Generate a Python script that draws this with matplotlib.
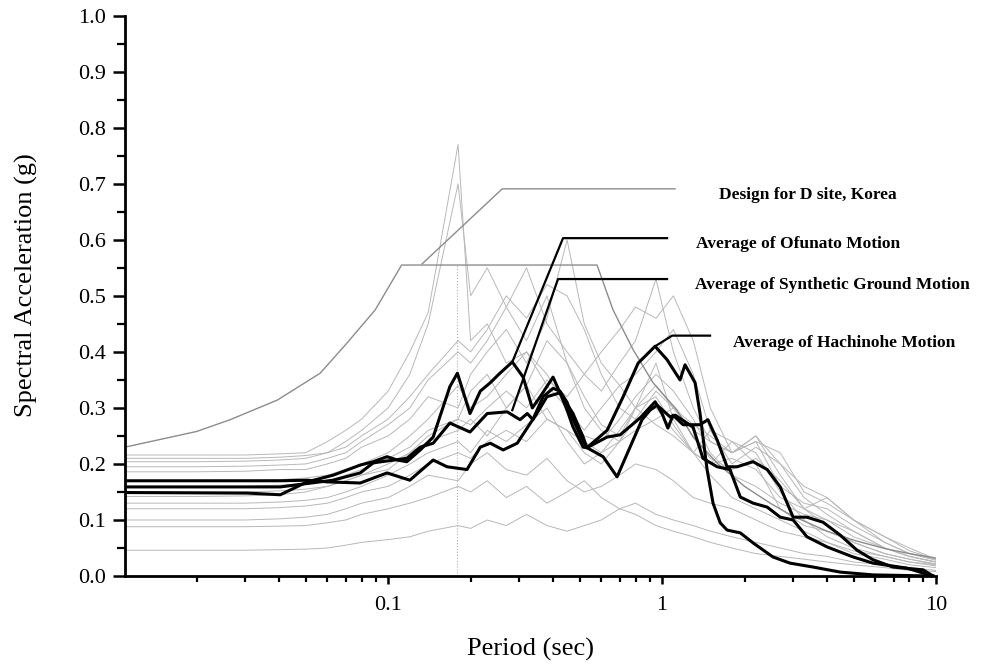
import matplotlib.pyplot as plt
from matplotlib.ticker import FixedLocator, FixedFormatter, MultipleLocator, FormatStrFormatter, LogLocator, NullFormatter

plt.rcParams['font.family'] = ['Liberation Serif', 'DejaVu Serif']

# period grid shared by the individual record spectra
periods = [0.01095, 0.02, 0.03, 0.04, 0.05, 0.06, 0.07, 0.08, 0.1, 0.12, 0.14, 0.18,
           0.2, 0.23, 0.27, 0.32, 0.38, 0.45, 0.52, 0.6, 0.7, 0.8, 0.95, 1.1, 1.3,
           1.5, 1.8, 2.2, 2.7, 3.3, 4.0, 5.0, 6.5, 8.0, 10.0]

rec01 = [0.216, 0.216, 0.216, 0.218, 0.220, 0.240, 0.260, 0.280, 0.330, 0.400, 0.470, 0.770,
         0.420, 0.450, 0.380, 0.400, 0.360, 0.300, 0.260, 0.300, 0.340, 0.300, 0.380, 0.280,
         0.220, 0.180, 0.140, 0.120, 0.100, 0.080, 0.060, 0.045, 0.035, 0.025, 0.018]
rec02 = [0.204, 0.204, 0.205, 0.207, 0.210, 0.220, 0.240, 0.260, 0.300, 0.360, 0.450, 0.700,
         0.500, 0.550, 0.480, 0.420, 0.500, 0.380, 0.300, 0.260, 0.240, 0.280, 0.300, 0.260,
         0.220, 0.200, 0.240, 0.220, 0.150, 0.100, 0.070, 0.050, 0.035, 0.025, 0.020]
rec03 = [0.195, 0.195, 0.196, 0.198, 0.200, 0.210, 0.220, 0.240, 0.270, 0.300, 0.350, 0.400,
         0.380, 0.420, 0.480, 0.550, 0.450, 0.400, 0.360, 0.330, 0.380, 0.420, 0.530, 0.400,
         0.300, 0.240, 0.220, 0.250, 0.180, 0.120, 0.090, 0.060, 0.040, 0.030, 0.022]
rec04 = [0.186, 0.186, 0.187, 0.190, 0.190, 0.200, 0.210, 0.230, 0.250, 0.280, 0.320, 0.300,
         0.360, 0.400, 0.440, 0.380, 0.460, 0.600, 0.450, 0.380, 0.340, 0.360, 0.400, 0.440,
         0.360, 0.260, 0.200, 0.230, 0.200, 0.140, 0.110, 0.080, 0.050, 0.035, 0.025]
rec05 = [0.170, 0.170, 0.170, 0.172, 0.175, 0.180, 0.190, 0.200, 0.220, 0.250, 0.280, 0.340,
         0.300, 0.320, 0.360, 0.400, 0.340, 0.300, 0.250, 0.240, 0.280, 0.320, 0.360, 0.330,
         0.280, 0.220, 0.180, 0.160, 0.130, 0.110, 0.100, 0.070, 0.050, 0.035, 0.025]
rec06 = [0.160, 0.160, 0.160, 0.162, 0.165, 0.170, 0.180, 0.190, 0.210, 0.230, 0.260, 0.280,
         0.330, 0.360, 0.300, 0.340, 0.420, 0.380, 0.320, 0.270, 0.250, 0.300, 0.340, 0.300,
         0.270, 0.250, 0.220, 0.240, 0.160, 0.130, 0.120, 0.090, 0.060, 0.040, 0.028]
rec07 = [0.142, 0.142, 0.143, 0.145, 0.150, 0.160, 0.170, 0.180, 0.190, 0.220, 0.240, 0.260,
         0.280, 0.250, 0.300, 0.340, 0.280, 0.260, 0.220, 0.200, 0.240, 0.300, 0.320, 0.270,
         0.220, 0.200, 0.210, 0.190, 0.140, 0.120, 0.140, 0.100, 0.060, 0.040, 0.030]
rec08 = [0.130, 0.130, 0.130, 0.132, 0.135, 0.140, 0.150, 0.160, 0.180, 0.200, 0.220, 0.240,
         0.220, 0.260, 0.240, 0.270, 0.300, 0.240, 0.200, 0.220, 0.260, 0.300, 0.270, 0.250,
         0.220, 0.260, 0.240, 0.200, 0.120, 0.090, 0.080, 0.060, 0.040, 0.030, 0.020]
rec09 = [0.100, 0.100, 0.100, 0.102, 0.105, 0.110, 0.120, 0.130, 0.140, 0.160, 0.180, 0.170,
         0.200, 0.220, 0.190, 0.180, 0.210, 0.170, 0.150, 0.160, 0.180, 0.200, 0.190, 0.170,
         0.140, 0.130, 0.120, 0.100, 0.080, 0.070, 0.060, 0.040, 0.030, 0.020, 0.015]
rec10 = [0.088, 0.088, 0.088, 0.089, 0.090, 0.095, 0.100, 0.110, 0.120, 0.130, 0.140, 0.160,
         0.150, 0.170, 0.140, 0.160, 0.130, 0.150, 0.170, 0.140, 0.120, 0.130, 0.110, 0.100,
         0.090, 0.080, 0.070, 0.060, 0.050, 0.040, 0.035, 0.025, 0.020, 0.015, 0.010]
rec11 = [0.046, 0.046, 0.046, 0.047, 0.048, 0.050, 0.055, 0.060, 0.065, 0.070, 0.080, 0.090,
         0.085, 0.100, 0.090, 0.110, 0.090, 0.080, 0.090, 0.100, 0.120, 0.110, 0.090, 0.080,
         0.070, 0.060, 0.050, 0.040, 0.035, 0.030, 0.025, 0.020, 0.015, 0.010, 0.008]
rec12 = [0.150, 0.150, 0.150, 0.152, 0.155, 0.160, 0.170, 0.180, 0.200, 0.220, 0.250, 0.280,
         0.270, 0.300, 0.330, 0.300, 0.350, 0.320, 0.360, 0.400, 0.440, 0.480, 0.460, 0.500,
         0.420, 0.300, 0.220, 0.240, 0.220, 0.150, 0.130, 0.100, 0.070, 0.050, 0.030]
rec13 = [0.210, 0.210, 0.210, 0.212, 0.215, 0.220, 0.230, 0.250, 0.280, 0.320, 0.360, 0.420,
         0.400, 0.440, 0.500, 0.460, 0.520, 0.500, 0.440, 0.360, 0.300, 0.280, 0.330, 0.300,
         0.250, 0.210, 0.190, 0.210, 0.170, 0.120, 0.100, 0.080, 0.050, 0.035, 0.025]
rec14 = [0.120, 0.120, 0.120, 0.122, 0.125, 0.130, 0.140, 0.150, 0.160, 0.180, 0.200, 0.220,
         0.210, 0.240, 0.260, 0.240, 0.280, 0.260, 0.240, 0.220, 0.240, 0.260, 0.280, 0.300,
         0.260, 0.240, 0.220, 0.250, 0.200, 0.160, 0.140, 0.100, 0.070, 0.045, 0.030]

# design spectrum, site class D
design_T = [0.01095, 0.02, 0.0265, 0.0394, 0.0565, 0.0708, 0.0897, 0.112, 0.579, 0.662,
            0.784, 0.927, 1.135, 1.297, 1.6, 2.0, 2.5, 3.0, 4.0, 5.0, 6.5, 8.0, 10.0]
design_Sa = [0.230, 0.258, 0.279, 0.314, 0.362, 0.416, 0.475, 0.555, 0.555, 0.475,
             0.404, 0.345, 0.296, 0.248, 0.200, 0.160, 0.129, 0.107, 0.080, 0.064, 0.049, 0.040, 0.032]
design_T0 = 0.178

# averaged spectra
ofunato_T = [0.01095, 0.0306, 0.0404, 0.0506, 0.0630, 0.0791, 0.0882, 0.0991, 0.108, 0.117,
             0.131, 0.146, 0.168, 0.179, 0.199, 0.217, 0.236, 0.256, 0.284, 0.311,
             0.336, 0.359, 0.400, 0.424, 0.450, 0.473, 0.515, 0.532,
             0.630, 0.703, 0.831, 0.943, 1.0, 1.05, 1.097, 1.193, 1.376, 1.47,
             1.588, 1.727, 1.88, 2.15, 2.42, 2.70, 3.01, 3.38, 3.87, 4.47,
             5.15, 5.89, 6.97, 8.97, 9.75]
ofunato_Sa = [0.149, 0.148, 0.145, 0.168, 0.180, 0.198, 0.204, 0.213, 0.207, 0.204,
              0.225, 0.248, 0.338, 0.362, 0.290, 0.330, 0.345, 0.362, 0.382, 0.355,
              0.300, 0.320, 0.355, 0.327, 0.296, 0.266, 0.230, 0.229,
              0.248, 0.252, 0.282, 0.311, 0.290, 0.264, 0.287, 0.270, 0.270, 0.279,
              0.243, 0.195, 0.195, 0.204, 0.190, 0.159, 0.105, 0.105, 0.096, 0.073,
              0.046, 0.029, 0.016, 0.011, 0.000]

synthetic_T = [0.01095, 0.0404, 0.0630, 0.0791, 0.0882, 0.117, 0.131, 0.146, 0.168, 0.199,
               0.230, 0.272, 0.303, 0.322, 0.338, 0.359, 0.380, 0.424, 0.473, 0.515, 0.532,
               0.609, 0.685, 0.764, 0.845, 0.904, 0.959, 1.07, 1.116, 1.297, 1.41,
               1.588, 1.77, 1.93, 2.15, 2.42, 2.70, 3.01, 3.38, 4.00, 4.98, 5.89, 7.84, 9.75]
synthetic_Sa = [0.159, 0.159, 0.171, 0.184, 0.202, 0.210, 0.230, 0.237, 0.273, 0.257,
                0.290, 0.293, 0.279, 0.290, 0.279, 0.300, 0.320, 0.327, 0.290, 0.248, 0.229,
                0.213, 0.177, 0.230, 0.279, 0.296, 0.305, 0.284, 0.287, 0.266, 0.210,
                0.195, 0.190, 0.141, 0.130, 0.123, 0.105, 0.100, 0.070, 0.052, 0.034, 0.023, 0.014, 0.000]

hachinohe_T = [0.01095, 0.0404, 0.0506, 0.0599, 0.0791, 0.0991, 0.120, 0.146, 0.164, 0.194,
               0.217, 0.236, 0.263, 0.296, 0.338, 0.368, 0.400, 0.424, 0.450, 0.473, 0.515, 0.532,
               0.630, 0.721, 0.818, 0.943, 1.043, 1.163, 1.213, 1.32, 1.376, 1.46,
               1.535, 1.63, 1.727, 1.93, 2.15, 2.54, 2.93, 3.56, 4.47, 5.89, 9.75]
hachinohe_Sa = [0.170, 0.170, 0.171, 0.168, 0.166, 0.184, 0.171, 0.207, 0.195, 0.190,
                0.230, 0.237, 0.225, 0.237, 0.280, 0.320, 0.335, 0.330, 0.310, 0.280, 0.240, 0.229,
                0.260, 0.320, 0.380, 0.410, 0.386, 0.350, 0.377, 0.345, 0.290, 0.190,
                0.130, 0.095, 0.082, 0.077, 0.059, 0.034, 0.023, 0.016, 0.007, 0.002, 0.000]

labels = ['Design for D site, Korea', 'Average of Ofunato Motion',
          'Average of Synthetic Ground Motion', 'Average of Hachinohe Motion']

fig = plt.figure(figsize=(9.89, 6.68), dpi=100)
ax = fig.add_axes([0.1264, 0.1377, 0.82, 0.8388])

for rec in (rec01, rec02, rec03, rec04, rec05, rec06, rec07,
            rec08, rec09, rec10, rec11, rec12, rec13, rec14):
    ax.plot(periods, rec, color='#b8b8b8', lw=0.7)

ax.plot(design_T, design_Sa, color='#8c8c8c', lw=1.0)
ax.plot([design_T0, design_T0], [0, 0.555], color='#b0b0b0', lw=0.8, ls=':')

ax.plot(ofunato_T, ofunato_Sa, color='k', lw=2.2)
ax.plot(synthetic_T, synthetic_Sa, color='k', lw=2.2)
ax.plot(hachinohe_T, hachinohe_Sa, color='k', lw=2.2)

# leader lines to the labels
ax.plot([0.133, 0.261, 1.115], [0.557, 0.691, 0.691], color='#8c8c8c', lw=1.0)
ax.plot([0.284, 0.435, 1.043], [0.382, 0.603, 0.603], color='k', lw=1.6)
ax.plot([0.284, 0.417, 1.043], [0.296, 0.530, 0.530], color='k', lw=1.6)
ax.plot([0.943, 1.088, 1.497], [0.410, 0.429, 0.429], color='k', lw=1.6)

label_x = [1.615, 1.331, 1.319, 1.816]
label_y = [0.673, 0.586, 0.512, 0.409]
for s, x, y in zip(labels, label_x, label_y):
    ax.text(x, y, s, fontsize=12.5, fontweight='bold', ha='left', va='baseline')

ax.set_xscale('log')
ax.set_xlim(0.01095, 10)
ax.set_ylim(0, 1.0)

ax.xaxis.set_major_locator(FixedLocator([0.1, 1, 10]))
ax.xaxis.set_major_formatter(FixedFormatter(['0.1', '1', '10']))
ax.xaxis.set_minor_locator(LogLocator(base=10, subs=[2, 3, 4, 5, 6, 7, 8, 9]))
ax.xaxis.set_minor_formatter(NullFormatter())
ax.yaxis.set_major_locator(MultipleLocator(0.1))
ax.yaxis.set_minor_locator(MultipleLocator(0.05))
ax.yaxis.set_major_formatter(FormatStrFormatter('%.1f'))

for side in ('top', 'right'):
    ax.spines[side].set_visible(False)
for side in ('left', 'bottom'):
    ax.spines[side].set_linewidth(2.0)

ax.tick_params(axis='y', which='major', direction='out', length=8.5, width=1.8, labelsize=16, pad=5)
ax.tick_params(axis='y', which='minor', direction='out', length=5.5, width=1.6)
ax.tick_params(axis='x', which='major', direction='out', length=5.5, width=1.8, labelsize=16, pad=9)
ax.tick_params(axis='x', which='minor', direction='out', length=4.5, width=1.6)

ax.set_xlabel('Period (sec)', fontsize=19)
ax.set_ylabel('Spectral Acceleration (g)', fontsize=19)
ax.xaxis.set_label_coords(0.5, -0.111)
ax.yaxis.set_label_coords(-0.107, 0.52)

fig.savefig('out.png', dpi=100)
